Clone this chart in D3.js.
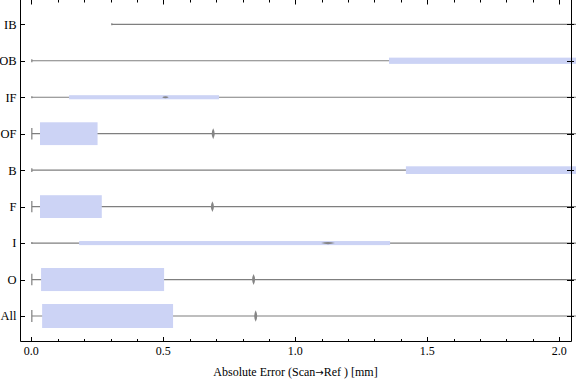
<!DOCTYPE html>
<html><head><meta charset="utf-8">
<script src="https://cdn.jsdelivr.net/npm/d3@7"></script>
<style>body{margin:0;background:#fff}svg{display:block}</style>
</head><body>
<svg id="c" width="576" height="381"></svg>
<script>
// ---- data (top to bottom) ----
const categories = ["IB","OB","IF","OF","B","F","I","O","All"];
const whiskerMin = [0.305, 0.002, 0.002, 0.002, 0.002, 0.002, 0.002, 0.002, 0.002];
const whiskerMax = [3.2, 3.0, 2.9, 2.6, 3.0, 2.6, 2.8, 2.5, 2.6];
const q1 = [2.3, 1.355, 0.143, 0.033, 1.419, 0.033, 0.181, 0.037, 0.041];
const q3 = [3.0, 2.8, 0.711, 0.251, 2.8, 0.267, 1.359, 0.503, 0.537];
const meanVal = [2.6, 2.2, 0.508, 0.689, 2.2, 0.686, 1.124, 0.842, 0.850];
const relWeight = [0.17, 0.26, 0.17, 0.95, 0.32, 0.95, 0.17, 0.96, 1.0];
const xTicks = [0, 0.5, 1.0, 1.5, 2.0];
const xTickLabels = ["0.0","0.5","1.0","1.5","2.0"];
const xLabelParts = ["Absolute Error (Scan", "\u2192", "Ref ) [mm]"];

(function () {
const svg = d3.select("#c");
const fLeft = 20.5, fRight = 571.5, fBottom = 341.5, fTop = -0.5;

const x = d3.scaleLinear().domain([0, 2]).range([31.3, 559.3]);
const y = d3.scalePoint().domain(categories).range([24.3, 316]);
const thick = d3.scaleLinear().domain([0, 1]).range([0, 24]);

const font = "'Liberation Serif', 'Times New Roman', serif";
const gray = "#7f7f7f";
const boxFill = "#ccd3f5";

const data = categories.map((c, i) => ({
  c, lo: whiskerMin[i], hi: whiskerMax[i], q1: q1[i], q3: q3[i], m: meanVal[i], w: relWeight[i]
}));

const g = svg.append("g");

g.selectAll("line.wh").data(data).join("line")
  .attr("x1", d => x(d.lo)).attr("x2", d => x(d.hi))
  .attr("y1", d => y(d.c)).attr("y2", d => y(d.c))
  .attr("stroke", gray).attr("stroke-width", 1.2);

g.selectAll("line.cap").data(data).join("line")
  .attr("x1", d => x(d.lo)).attr("x2", d => x(d.lo))
  .attr("y1", d => y(d.c) - thick(d.w) / 4).attr("y2", d => y(d.c) + thick(d.w) / 4)
  .attr("stroke", gray).attr("stroke-width", 1.2);

g.selectAll("rect.box").data(data).join("rect")
  .attr("x", d => x(d.q1)).attr("width", d => x(d.q3) - x(d.q1))
  .attr("y", d => y(d.c) - thick(d.w) / 2).attr("height", d => thick(d.w))
  .attr("fill", boxFill);

// lens-shaped mean markers
function lens(d) {
  const cx = x(d.m), cy = y(d.c);
  const horiz = thick(d.w) < 8;
  const a = horiz ? 0.022 * (x(d.q3) - x(d.q1)) : 1.3;
  const b = horiz ? 1.0 : thick(d.w) * 0.24;
  return `M${cx - a},${cy} Q${cx},${cy - 2 * b} ${cx + a},${cy} Q${cx},${cy + 2 * b} ${cx - a},${cy}Z`;
}
g.selectAll("path.m").data(data).join("path")
  .attr("d", d => {
    const horiz = thick(d.w) < 8;
    const cx = x(d.m), cy = y(d.c);
    if (horiz) {
      const a = 0.022 * (x(d.q3) - x(d.q1)), b = 1.1;
      return `M${cx - a},${cy} Q${cx},${cy - 2 * b} ${cx + a},${cy} Q${cx},${cy + 2 * b} ${cx - a},${cy}Z`;
    }
    const a = 1.5, b = thick(d.w) * 0.24;
    return `M${cx},${cy - b} Q${cx + 2 * a},${cy} ${cx},${cy + b} Q${cx - 2 * a},${cy} ${cx},${cy - b}Z`;
  })
  .attr("fill", "#858585");

const ax = svg.append("g").attr("stroke", "#000").attr("stroke-width", 1).attr("fill", "none");
ax.append("line").attr("x1", fLeft).attr("x2", fLeft).attr("y1", fTop).attr("y2", fBottom);
ax.append("line").attr("x1", fLeft).attr("x2", fRight).attr("y1", fBottom).attr("y2", fBottom);
ax.append("line").attr("x1", fRight).attr("x2", fRight).attr("y1", fTop).attr("y2", fBottom);

const minor = d3.range(0, 20.5, 1).map(v => v / 10);
minor.forEach(v => {
  const isMajor = xTicks.some(t => Math.abs(t - v) < 1e-6);
  const len = isMajor ? 4.5 : 2.5;
  const px = Math.round(x(v)) + 0.5;
  ax.append("line").attr("x1", px).attr("x2", px).attr("y1", fBottom).attr("y2", fBottom - len);
  ax.append("line").attr("x1", px).attr("x2", px).attr("y1", 0).attr("y2", len);
});

categories.forEach(c => {
  const py = Math.round(y(c)) + 0.5;
  ax.append("line").attr("x1", fLeft).attr("x2", fLeft + 4.5).attr("y1", py).attr("y2", py);
  ax.append("line").attr("x1", fRight - 4.5).attr("x2", fRight + 2.5).attr("y1", py).attr("y2", py);
});

svg.selectAll("text.cat").data(categories).join("text")
  .attr("x", 16.5).attr("y", d => y(d) + 4.4)
  .attr("text-anchor", "end").attr("font-family", font).attr("font-size", 12.5)
  .attr("fill", "#000").text(d => d);

svg.selectAll("text.xt").data(xTicks).join("text")
  .attr("x", d => x(d)).attr("y", 354.5)
  .attr("text-anchor", "middle").attr("font-family", font).attr("font-size", 12)
  .attr("fill", "#000").text((d, i) => xTickLabels[i]);

const t = svg.append("text").attr("x", 295.5).attr("y", 375.5)
  .attr("text-anchor", "middle").attr("font-family", font).attr("font-size", 12)
  .attr("fill", "#000");
t.append("tspan").text(xLabelParts[0]);
t.append("tspan").attr("font-family", "'DejaVu Sans', sans-serif").attr("font-size", 10).text(xLabelParts[1]);
t.append("tspan").text(xLabelParts[2]);
})();
</script>
</body></html>
